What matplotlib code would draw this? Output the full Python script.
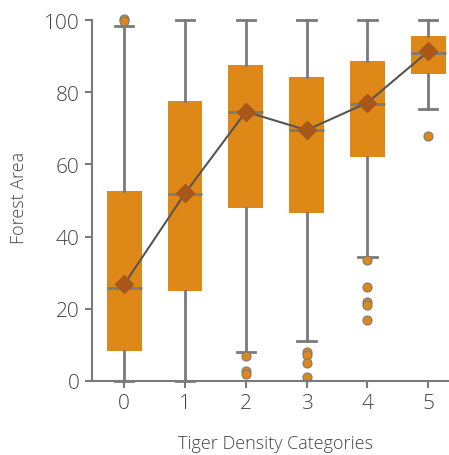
import matplotlib
matplotlib.use("Agg")
import matplotlib.pyplot as plt

plt.rcParams['font.family'] = ['Open Sans', 'DejaVu Sans']

categories = [0, 1, 2, 3, 4, 5]
q1 = [8.4, 25.0, 48.0, 46.5, 62.0, 85.1]
q3 = [52.5, 77.6, 87.5, 84.2, 88.6, 95.6]
medians = [25.8, 51.9, 74.4, 69.5, 76.6, 90.9]
means = [26.8, 52.0, 74.6, 69.5, 77.1, 91.3]
whislo = [0.0, 0.0, 8.1, 11.0, 34.4, 75.3]
whishi = [98.3, 100.0, 100.0, 100.0, 100.0, 100.0]
fliers = [
    [100.3, 99.6],
    [],
    [6.9, 2.8, 1.9],
    [8.1, 7.3, 5.1, 1.1],
    [33.5, 26.0, 22.0, 21.1, 16.9],
    [68.0],
]
yticks = [0, 20, 40, 60, 80, 100]

box_color = '#DE8818'
grey = '#7a7a7a'
text_color = '#444444'

fig = plt.figure(figsize=(4.49, 4.56), dpi=100)
ax = fig.add_axes([92 / 449, 74 / 456, 366.6 / 449, 368.2 / 456])

stats = []
for i in range(len(categories)):
    stats.append(dict(med=medians[i], q1=q1[i], q3=q3[i], whislo=whislo[i],
                      whishi=whishi[i], fliers=fliers[i], mean=means[i]))

ax.bxp(stats, positions=categories, widths=0.575, patch_artist=True,
       showmeans=False, showcaps=True,
       boxprops=dict(facecolor=box_color, edgecolor='none', linewidth=0),
       medianprops=dict(color=grey, linewidth=2),
       whiskerprops=dict(color=grey, linewidth=2),
       capprops=dict(color=grey, linewidth=2),
       capwidths=0.3,
       flierprops=dict(marker='o', markerfacecolor=box_color, markeredgecolor=grey,
                       markeredgewidth=0.8, markersize=6.5),
       zorder=2)

ax.plot(categories, means, color='#555555', linewidth=1.5, zorder=3,
        marker='D', markersize=9.5, markerfacecolor='#A8561A', markeredgecolor='#A8561A')

for art in ax.get_children():
    try:
        art.set_clip_on(False)
    except Exception:
        pass

ax.set_xlim(-0.53, 5.5)
ax.set_ylim(0, 102)
ax.set_yticks(yticks)
ax.set_xticks(categories)
ax.set_xticklabels([str(c) for c in categories])

for s in ['top', 'right']:
    ax.spines[s].set_visible(False)
for s in ['left', 'bottom']:
    ax.spines[s].set_color(grey)
    ax.spines[s].set_linewidth(1.5)
ax.spines['left'].set_bounds(0, 100)

ax.tick_params(axis='both', colors=grey, length=5, width=1.5, labelsize=15,
               labelcolor=text_color, pad=4)
for lbl in ax.get_xticklabels() + ax.get_yticklabels():
    lbl.set_fontweight('light')

ax.set_ylabel('Forest Area', fontsize=13, color=text_color, fontweight='light', labelpad=11)
ax.set_xlabel('Tiger Density Categories', fontsize=13, color=text_color, fontweight='light', labelpad=15)

fig.savefig('out.png', dpi=100)
